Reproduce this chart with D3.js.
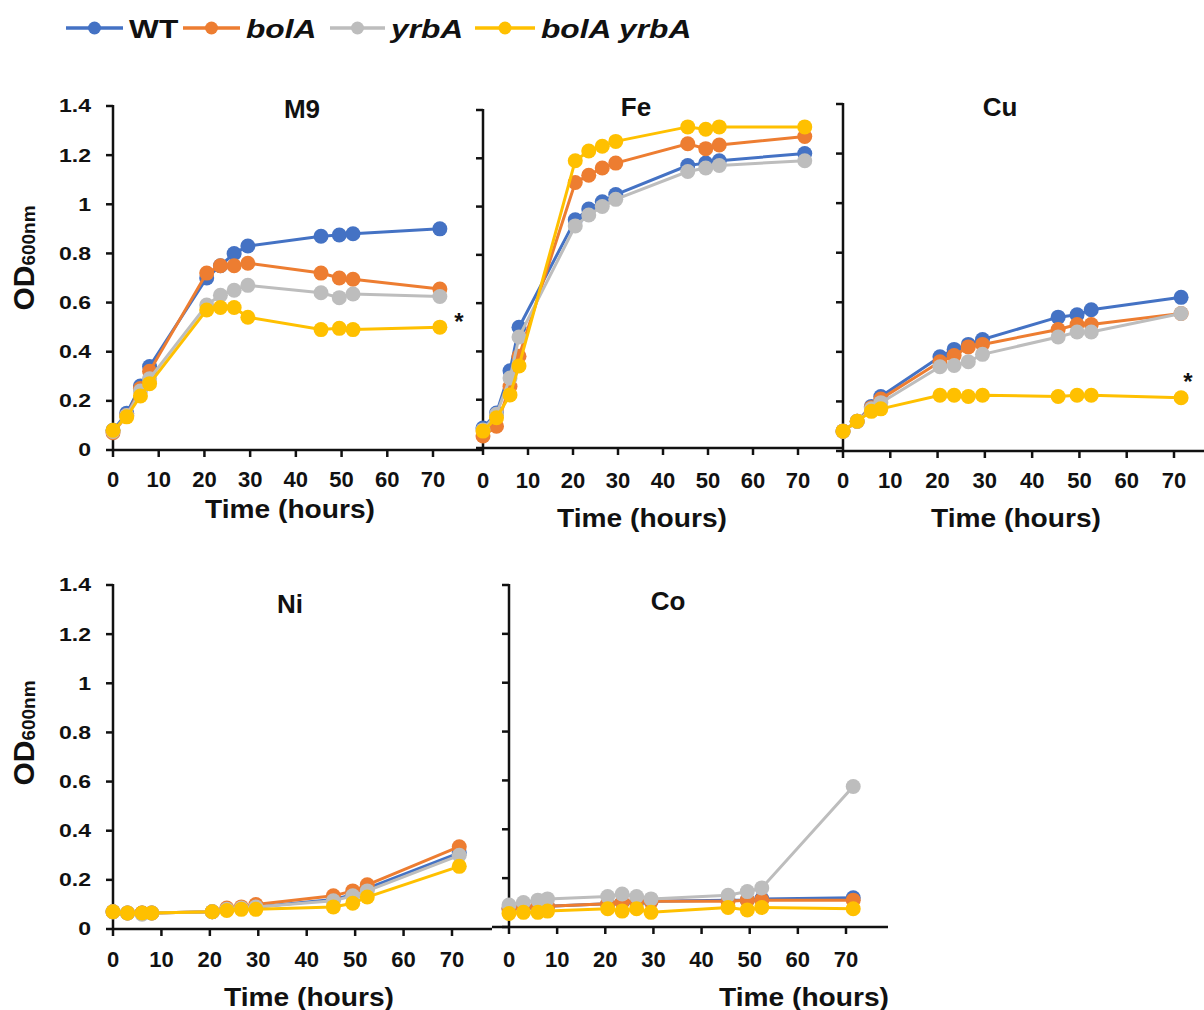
<!DOCTYPE html>
<html>
<head>
<meta charset="utf-8">
<script src="https://cdn.jsdelivr.net/npm/d3@7"></script>
<style>
  body { margin: 0; background: #fff; }
  svg text { font-family: "Liberation Sans", Arial, sans-serif; font-weight: bold; fill: #111; }
</style>
</head>
<body>
<svg id="chart" width="1204" height="1010"></svg>
<script>
// sampling times (hours)
const hours = [0, 3, 6, 8, 20.5, 23.5, 26.5, 29.5, 45.5, 49.5, 52.5, 71.5];
const strains = ['WT', 'bolA', 'yrbA', 'bolA yrbA'];
const strainColors = ['#4472C4', '#ED7D31', '#BDBDBD', '#FFC000'];
const yTicks = [0, 0.2, 0.4, 0.6, 0.8, 1, 1.2, 1.4];
const xTicks = [0, 10, 20, 30, 40, 50, 60, 70];

// OD600 per strain, order: WT, bolA, yrbA, bolA yrbA
const m9OD = [
  [0.08, 0.15, 0.26, 0.34, 0.70, 0.75, 0.80, 0.83, 0.87, 0.875, 0.88, 0.90],
  [0.07, 0.14, 0.25, 0.32, 0.72, 0.75, 0.75, 0.76, 0.72, 0.70, 0.695, 0.655],
  [0.075, 0.14, 0.24, 0.29, 0.59, 0.63, 0.65, 0.67, 0.64, 0.62, 0.635, 0.625],
  [0.08, 0.135, 0.22, 0.27, 0.57, 0.58, 0.58, 0.54, 0.49, 0.495, 0.49, 0.50]
];
const feOD = [
  [0.083, 0.145, 0.32, 0.50, 0.945, 0.99, 1.02, 1.05, 1.17, 1.18, 1.19, 1.22],
  [0.05, 0.09, 0.255, 0.38, 1.10, 1.13, 1.16, 1.18, 1.26, 1.24, 1.255, 1.29],
  [0.075, 0.14, 0.29, 0.46, 0.92, 0.965, 1.0, 1.03, 1.145, 1.16, 1.17, 1.19],
  [0.07, 0.125, 0.22, 0.34, 1.19, 1.23, 1.25, 1.27, 1.33, 1.32, 1.33, 1.33]
];
const cuOD = [
  [0.08, 0.12, 0.18, 0.22, 0.38, 0.41, 0.43, 0.45, 0.54, 0.55, 0.57, 0.62],
  [0.08, 0.12, 0.175, 0.21, 0.36, 0.385, 0.42, 0.43, 0.49, 0.51, 0.51, 0.555],
  [0.08, 0.12, 0.17, 0.195, 0.34, 0.345, 0.36, 0.39, 0.46, 0.48, 0.48, 0.555],
  [0.08, 0.12, 0.16, 0.17, 0.225, 0.225, 0.22, 0.225, 0.22, 0.225, 0.225, 0.215]
];
const niOD = [
  [0.07, 0.065, 0.065, 0.065, 0.07, 0.08, 0.085, 0.09, 0.12, 0.14, 0.165, 0.31],
  [0.07, 0.065, 0.065, 0.065, 0.07, 0.085, 0.09, 0.10, 0.135, 0.155, 0.18, 0.335],
  [0.07, 0.065, 0.06, 0.065, 0.07, 0.08, 0.085, 0.09, 0.115, 0.135, 0.155, 0.30],
  [0.07, 0.065, 0.065, 0.065, 0.07, 0.075, 0.08, 0.08, 0.09, 0.105, 0.13, 0.255]
];
const coOD = [
  [0.075, 0.08, 0.08, 0.085, 0.095, 0.10, 0.10, 0.105, 0.11, 0.11, 0.115, 0.12],
  [0.075, 0.08, 0.085, 0.085, 0.095, 0.10, 0.105, 0.105, 0.105, 0.11, 0.11, 0.11],
  [0.09, 0.10, 0.11, 0.115, 0.125, 0.135, 0.125, 0.115, 0.13, 0.145, 0.16, 0.575],
  [0.055, 0.06, 0.06, 0.065, 0.075, 0.065, 0.075, 0.06, 0.08, 0.07, 0.08, 0.075]
];

// panel placement (cropped excel charts)
const panels = [
  { title: 'M9', values: m9OD, left: 113, x70: 433, y0: 450, yTop: 106, xStart: 113, xEnd: 483,
    yLabels: true, yLabelMid: 258, titleX: 302, titleY: 118, axisX: 290, axisY: 518, tickY: 487, star: [459, 330] },
  { title: 'Fe', values: feOD, left: 483, x70: 798, y0: 448, yTop: 110, xStart: 483, xEnd: 843,
    yLabels: false, titleX: 636, titleY: 116, axisX: 642, axisY: 527, tickY: 488 },
  { title: 'Cu', values: cuOD, left: 843, x70: 1174, y0: 451, yTop: 104, xStart: 843, xEnd: 1204,
    yLabels: false, titleX: 1000, titleY: 116, axisX: 1016, axisY: 527, tickY: 488, star: [1188, 390] },
  { title: 'Ni', values: niOD, left: 113, x70: 452, y0: 929, yTop: 585, xStart: 113, xEnd: 492,
    yLabels: true, yLabelMid: 733, titleX: 290, titleY: 613, axisX: 309, axisY: 1006, tickY: 967 },
  { title: 'Co', values: coOD, left: 509, x70: 846, y0: 927, yTop: 585, xStart: 492, xEnd: 888,
    yLabels: false, titleX: 668, titleY: 610, axisX: 804, axisY: 1006, tickY: 967 }
];

const svg = d3.select('#chart');

function drawPanel(p) {
  const x = d3.scaleLinear().domain([0, 70]).range([p.left, p.x70]);
  const y = d3.scaleLinear().domain([0, 1.4]).range([p.y0, p.yTop]);
  const g = svg.append('g');

  // y axis
  g.append('line')
    .attr('x1', p.left).attr('x2', p.left)
    .attr('y1', y(1.4) - 1).attr('y2', p.y0)
    .attr('stroke', '#111').attr('stroke-width', 2.5);
  g.selectAll('.ytick').data(yTicks).join('line')
    .attr('x1', p.left - 7).attr('x2', p.left)
    .attr('y1', (d) => y(d)).attr('y2', (d) => y(d))
    .attr('stroke', '#111').attr('stroke-width', 2.5);
  if (p.yLabels) {
    g.selectAll('.ylab').data(yTicks).join('text')
      .attr('transform', (d) => `translate(${p.left - 22},${y(d)}) scale(1.28,1)`)
      .attr('text-anchor', 'end')
      .attr('dy', '0.36em')
      .attr('font-size', 18)
      .text((d) => d3.format('~g')(d));
    const yl = g.append('text')
      .attr('transform', `translate(34,${p.yLabelMid}) rotate(-90)`)
      .attr('text-anchor', 'middle');
    yl.append('tspan').attr('font-size', 30).text('OD');
    yl.append('tspan').attr('font-size', 19).attr('dy', 1).text('600nm');
  }

  // x axis
  g.append('line')
    .attr('x1', p.xStart).attr('x2', p.xEnd)
    .attr('y1', p.y0).attr('y2', p.y0)
    .attr('stroke', '#111').attr('stroke-width', 2.5);
  g.selectAll('.xtick').data(xTicks).join('line')
    .attr('x1', (d) => x(d)).attr('x2', (d) => x(d))
    .attr('y1', p.y0).attr('y2', p.y0 + 7)
    .attr('stroke', '#111').attr('stroke-width', 2.5);
  g.selectAll('.xlab').data(xTicks).join('text')
    .attr('x', (d) => x(d)).attr('y', p.tickY)
    .attr('text-anchor', 'middle')
    .attr('font-size', 22)
    .text((d) => d);
  g.append('text')
    .attr('x', p.axisX).attr('y', p.axisY)
    .attr('text-anchor', 'middle')
    .attr('font-size', 25)
    .attr('textLength', 170).attr('lengthAdjust', 'spacingAndGlyphs')
    .text('Time (hours)');

  // title
  g.append('text')
    .attr('x', p.titleX).attr('y', p.titleY)
    .attr('text-anchor', 'middle')
    .attr('font-size', 26)
    .text(p.title);

  // series
  const line = d3.line().x((d) => x(d[0])).y((d) => y(d[1]));
  p.values.forEach((vals, i) => {
    const pts = hours.map((h, j) => [h, vals[j]]);
    const s = g.append('g');
    s.append('path').datum(pts)
      .attr('d', line)
      .attr('fill', 'none')
      .attr('stroke', strainColors[i])
      .attr('stroke-width', 3);
    s.selectAll('circle').data(pts).join('circle')
      .attr('cx', (d) => x(d[0])).attr('cy', (d) => y(d[1]))
      .attr('r', 7.5)
      .attr('fill', strainColors[i]);
  });

  if (p.star) {
    g.append('text')
      .attr('x', p.star[0]).attr('y', p.star[1])
      .attr('text-anchor', 'middle')
      .attr('font-size', 24)
      .text('*');
  }
}

panels.forEach(drawPanel);

// legend
const legendX = [66, 183, 330, 475];
const legendW = [57, 57, 55, 60];
const legend = svg.append('g');
strains.forEach((s, i) => {
  const lx = legendX[i];
  legend.append('line')
    .attr('x1', lx).attr('x2', lx + legendW[i])
    .attr('y1', 28).attr('y2', 28)
    .attr('stroke', strainColors[i]).attr('stroke-width', 3.5);
  legend.append('circle')
    .attr('cx', lx + legendW[i] / 2).attr('cy', 28).attr('r', 6.5)
    .attr('fill', strainColors[i]);
  legend.append('text')
    .attr('transform', `translate(${lx + legendW[i] + 6},38) scale(1.22,1)`)
    .attr('font-size', 26)
    .attr('font-style', i === 0 ? 'normal' : 'italic')
    .text(s);
});
</script>
</body>
</html>
